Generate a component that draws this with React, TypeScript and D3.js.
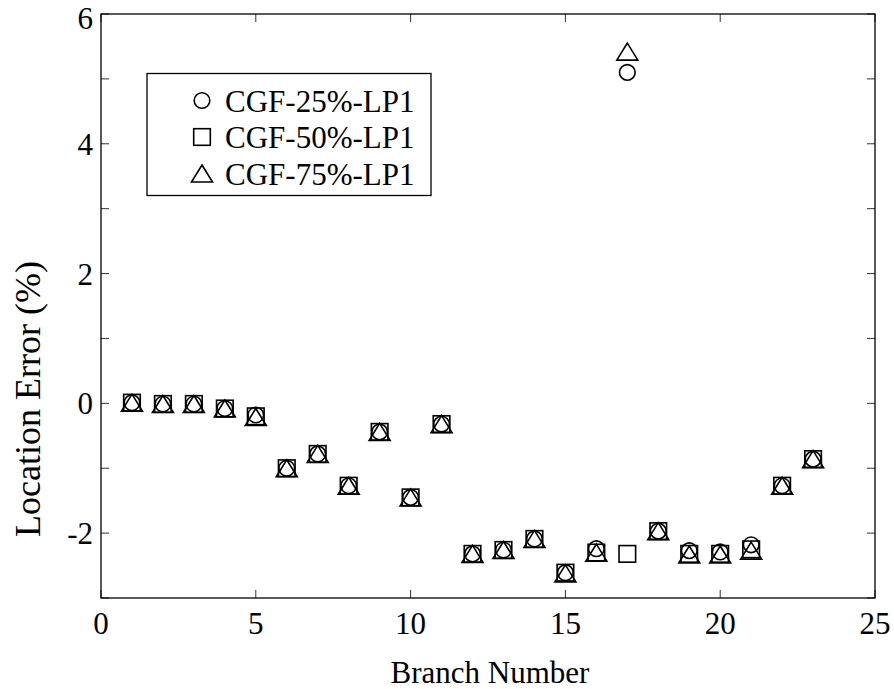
import React from "react";
import * as d3 from "d3";

const branches = [1,2,3,4,5,6,7,8,9,10,11,12,13,14,15,16,17,18,19,20,21,22,23];
const cgf25 = [0.01,-0.01,-0.01,-0.08,-0.18,-1.0,-0.78,-1.27,-0.44,-1.45,-0.32,-2.32,-2.26,-2.09,-2.61,-2.24,5.10,-1.97,-2.27,-2.29,-2.18,-1.27,-0.86];
const cgf50 = [0.01,-0.01,-0.01,-0.08,-0.2,-1.0,-0.78,-1.27,-0.44,-1.45,-0.32,-2.32,-2.26,-2.09,-2.61,-2.3,-2.32,-1.97,-2.32,-2.32,-2.25,-1.27,-0.86];
const cgf75 = [0.01,-0.01,-0.01,-0.08,-0.21,-1.0,-0.78,-1.27,-0.44,-1.45,-0.32,-2.32,-2.26,-2.09,-2.62,-2.3,5.42,-1.97,-2.33,-2.33,-2.27,-1.27,-0.86];
const seriesNames = ["CGF-25%-LP1","CGF-50%-LP1","CGF-75%-LP1"];
const xTicks = [0,5,10,15,20,25];
const yTicks = [-3,-2,-1,0,1,2,3,4,5,6];
const yLabels = [-2,0,2,4,6];

const W = 894, H = 689;
const L = 101, R = 875, T = 14, B = 598;
const FONT = "'Liberation Serif', 'Times New Roman', serif";

function Marker({ kind, x, y }: { kind: number; x: number; y: number }) {
  const common = { fill: "none", stroke: "#000", strokeWidth: 1.6 };
  if (kind === 0) return <circle cx={x} cy={y} r={7.8} {...common} />;
  if (kind === 1) return <rect x={x - 8.3} y={y - 8.3} width={16.6} height={16.6} {...common} />;
  return <path d={`M${x},${y - 8.5}L${x + 10.5},${y + 8.5}L${x - 10.5},${y + 8.5}Z`} {...common} />;
}

export default function App() {
  const xs = d3.scaleLinear().domain([0, 25]).range([L, R]);
  const ys = d3.scaleLinear().domain([-3, 6]).range([B, T]);
  const series = [cgf25, cgf50, cgf75];
  const tickLen = 8;
  return (
    <svg width={W} height={H} style={{ position: "absolute", left: 0, top: 0, background: "#fff" }} fontFamily={FONT}>
      <rect x={0} y={0} width={W} height={H} fill="#fff" />
      {xTicks.map((t) => (
        <g key={"xt" + t} stroke="#333" strokeWidth={1}>
          <line x1={xs(t)} x2={xs(t)} y1={B} y2={B - tickLen} />
          <line x1={xs(t)} x2={xs(t)} y1={T} y2={T + tickLen} />
        </g>
      ))}
      {yTicks.map((t) => (
        <g key={"yt" + t} stroke="#333" strokeWidth={1}>
          <line x1={L} x2={L + tickLen} y1={ys(t)} y2={ys(t)} />
          <line x1={R} x2={R - tickLen} y1={ys(t)} y2={ys(t)} />
        </g>
      ))}
      <rect x={L} y={T} width={R - L} height={B - T} fill="none" stroke="#000" strokeWidth={1.3} />
      {xTicks.map((t) => (
        <text key={"xl" + t} x={xs(t)} y={634} textAnchor="middle" fontSize={31}>{t}</text>
      ))}
      {yLabels.map((t) => (
        <text key={"yl" + t} x={93} y={Math.max(ys(t) + 11, 29)} textAnchor="end" fontSize={31}>{t}</text>
      ))}
      <text x={(L + R) / 2 + 2} y={683} textAnchor="middle" fontSize={31}>Branch Number</text>
      <text transform={`translate(40,399) rotate(-90)`} textAnchor="middle" fontSize={36}>Location Error (%)</text>
      {series.map((s, k) => (
        <g key={"s" + k}>
          {s.map((v, i) => (
            <Marker key={i} kind={k} x={xs(branches[i])} y={ys(v)} />
          ))}
        </g>
      ))}
      <rect x={147} y={73.5} width={284} height={122} fill="#fff" stroke="#000" strokeWidth={1.3} />
      {seriesNames.map((n, k) => (
        <g key={"lg" + k}>
          <Marker kind={k} x={202} y={100.5 + k * 36.5} />
          <text x={225} y={111.5 + k * 36.8} fontSize={31}>{n}</text>
        </g>
      ))}
    </svg>
  );
}
